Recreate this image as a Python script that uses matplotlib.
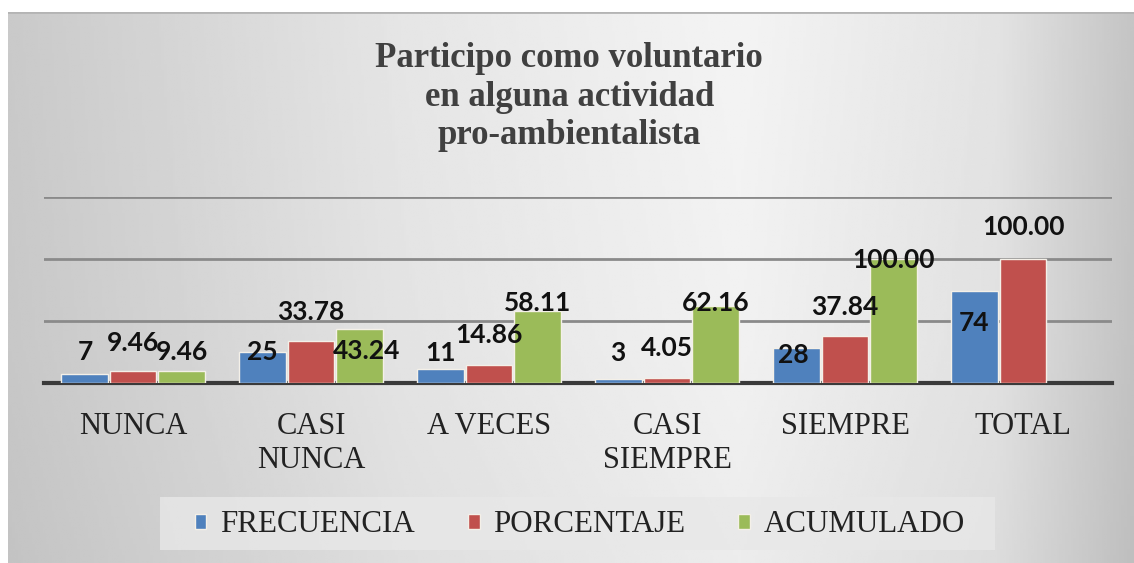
import numpy as np
import matplotlib
matplotlib.use('Agg')
import matplotlib.pyplot as plt
from matplotlib.patches import Rectangle

# datos de la tabla
categorias = ['NUNCA', 'CASI\nNUNCA', 'A VECES', 'CASI\nSIEMPRE', 'SIEMPRE', 'TOTAL']
frecuencia = [7, 25, 11, 3, 28, 74]
porcentaje = [9.46, 33.78, 14.86, 4.05, 37.84, 100.00]
acumulado = [9.46, 43.24, 58.11, 62.16, 100.00, np.nan]
series = ['FRECUENCIA', 'PORCENTAJE', 'ACUMULADO']

colores = ['#4f81bd', '#c0504d', '#9bbb59']
# desplazamiento manual de las etiquetas (pixeles, respecto al tope de la barra)
desp_y = [[22, 0, 16, 26, -7, -32],
          [28, 29, 30, 30, 29, 32],
          [19, -22, 8, 3, -1, 0]]
desp_x = [[1, 0, 0, 0, -3, 0],
          [0, 0, 0, 0, 0, 0],
          [0, 7, 0, 0, 0, 0]]

W, H = 1134, 563
fig = plt.figure(figsize=(W / 100, H / 100), dpi=100)
fig.patch.set_facecolor('white')

# fondo degradado del area del grafico
bg = fig.add_axes([8 / W, 0, 1 - 8 / W, 1 - 12 / H], zorder=0)
xs = np.linspace(0, 1, 400)
ys = np.linspace(0, 1, 100)
fila = np.interp(xs, [0, 0.35, 0.65, 0.88, 1], [0.79, 0.90, 0.955, 0.89, 0.77])
col = np.interp(ys, [0, 0.6, 1], [1.0, 0.99, 0.97])
grad = np.outer(col, fila)
bg.imshow(grad, cmap='gray', vmin=0, vmax=1, aspect='auto', extent=[0, 1, 0, 1])
bg.axhline(1, color='#b4b4b4', lw=2)
bg.set_xlim(0, 1)
bg.set_ylim(0, 1)
bg.axis('off')

# caja clara detras de la leyenda
fig.patches.append(Rectangle((160 / W, 1 - 550 / H), (995 - 160) / W, 53 / H,
                             transform=fig.transFigure, facecolor='#e8e8e8', alpha=0.8,
                             edgecolor='none', zorder=1))

ax = fig.add_axes([44 / W, 1 - 383 / H, (1112 - 44) / W, (383 - 197) / H], zorder=2)
ax.patch.set_alpha(0)

x = np.arange(len(categorias))
ancho = 0.264
paso = 0.275
datos = [frecuencia, porcentaje, acumulado]
for i, (vals, c) in enumerate(zip(datos, colores)):
    pos = x + (i - 1) * paso
    ax.bar(pos, vals, width=ancho, color=c, edgecolor='#f4f0e8', lw=1, label=series[i], zorder=3)
    for j, v in enumerate(vals):
        if np.isnan(v):
            continue
        txt = f'{v:.2f}' if i > 0 else f'{v:d}'
        ax.annotate(txt, (pos[j], v), xytext=(desp_x[i][j], desp_y[i][j]),
                    textcoords='offset pixels', ha='center', va='center',
                    fontsize=19, fontweight='bold', family='Lato', color='#111111', zorder=5)

ax.set_xlim(-0.5, len(categorias) - 0.5)
ax.set_ylim(0, 150)
ax.set_yticks([50, 100, 150])
ax.yaxis.grid(True, color='#8a8a8a', lw=2)
ax.set_axisbelow(True)
ax.tick_params(axis='y', left=False, labelleft=False)
ax.tick_params(axis='x', length=0, pad=21)
ax.set_xticks(x)
ax.set_xticklabels(categorias, family='Liberation Serif', fontsize=22, color='#222222',
                   linespacing=1.2, va='top')
for s in ['top', 'right', 'left']:
    ax.spines[s].set_visible(False)
ax.spines['bottom'].set_color('#3a3a3a')
ax.spines['bottom'].set_linewidth(3)

fig.text(0.502, 1 - 97 / H, 'Participo como voluntario\nen alguna actividad\npro-ambientalista',
         ha='center', va='center', family='Liberation Serif', fontweight='bold',
         fontsize=25, color='#404040', linespacing=1.22)

leg = ax.legend(loc='center', bbox_to_anchor=(580 / W, 1 - 525 / H), bbox_transform=fig.transFigure,
                ncol=3, frameon=False, handlelength=0.38, handleheight=0.38,
                handletextpad=0.45, columnspacing=1.7, borderpad=0.45,
                prop={'family': 'Liberation Serif', 'size': 22.3})
for t in leg.get_texts():
    t.set_color('#222222')

fig.savefig('out.png', dpi=100)
